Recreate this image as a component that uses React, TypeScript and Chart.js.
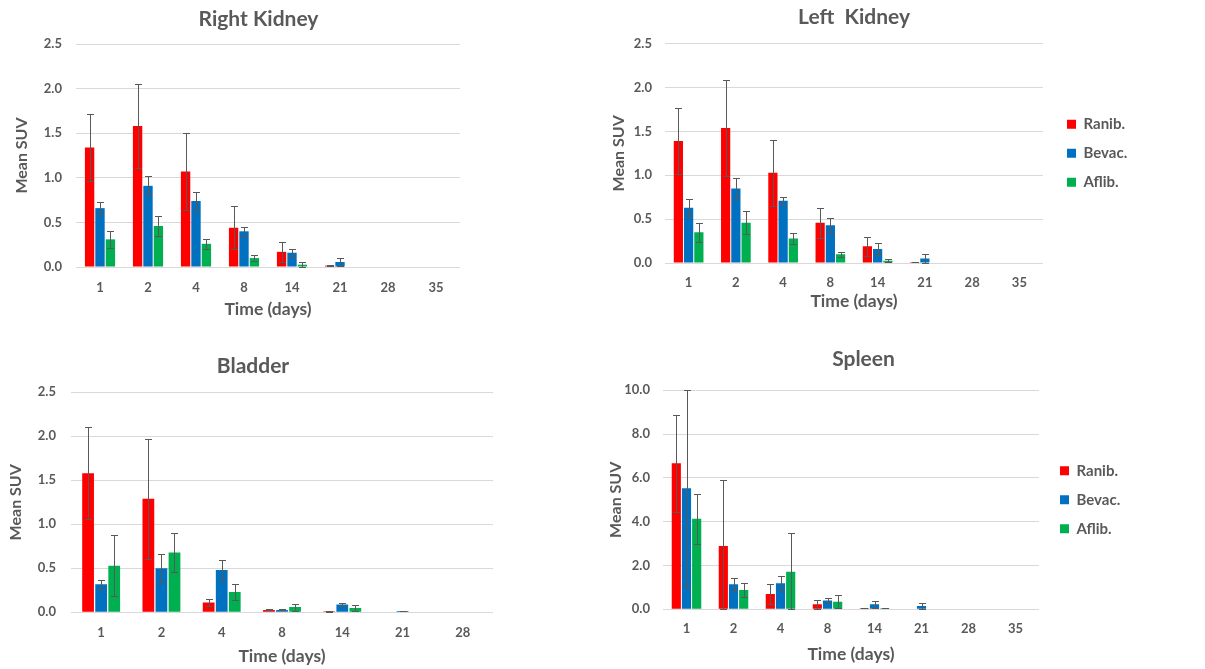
import React, { useEffect, useRef } from 'react';
import { Chart, registerables } from 'chart.js';

Chart.register(...registerables);

// ---------- data ----------
const daysLong = ['1', '2', '4', '8', '14', '21', '28', '35'];
const daysBladder = ['1', '2', '4', '8', '14', '21', '28'];
const seriesNames = ['Ranib.', 'Bevac.', 'Aflib.'];
const seriesColors = ['#FF0000', '#0070C0', '#00B050'];

// Right kidney
const rkRanib = [1.34, 1.58, 1.07, 0.44, 0.17, 0.015, null, null];
const rkRanibErr = [0.38, 0.47, 0.43, 0.24, 0.115, 0.005, 0, 0];
const rkBevac = [0.66, 0.91, 0.74, 0.4, 0.16, 0.056, null, null];
const rkBevacErr = [0.07, 0.105, 0.105, 0.05, 0.04, 0.04, 0, 0];
const rkAflib = [0.31, 0.46, 0.26, 0.1, 0.026, null, null, null];
const rkAflibErr = [0.095, 0.115, 0.055, 0.03, 0.025, 0, 0, 0];

// Left kidney
const lkRanib = [1.39, 1.54, 1.03, 0.46, 0.19, 0.01, null, null];
const lkRanibErr = [0.38, 0.545, 0.375, 0.17, 0.105, 0.004, 0, 0];
const lkBevac = [0.63, 0.85, 0.71, 0.43, 0.16, 0.05, null, null];
const lkBevacErr = [0.105, 0.115, 0.04, 0.085, 0.065, 0.05, 0, 0];
const lkAflib = [0.35, 0.46, 0.28, 0.1, 0.027, null, null, null];
const lkAflibErr = [0.105, 0.135, 0.06, 0.03, 0.02, 0, 0, 0];

// Bladder
const blRanib = [1.58, 1.29, 0.11, 0.027, 0.011, null, null];
const blRanibErr = [0.52, 0.68, 0.04, 0.005, 0.002, 0, 0];
const blBevac = [0.32, 0.5, 0.48, 0.027, 0.09, 0.015, null];
const blBevacErr = [0.05, 0.165, 0.11, 0.005, 0.02, 0.005, 0];
const blAflib = [0.53, 0.68, 0.23, 0.06, 0.049, null, null];
const blAflibErr = [0.345, 0.225, 0.095, 0.04, 0.03, 0, 0];

// Spleen
const spRanib = [6.67, 2.89, 0.7, 0.23, 0.05, null, null, null];
const spRanibErr = [2.22, 3.03, 0.47, 0.21, 0.01, 0, 0, 0];
const spBevac = [5.53, 1.14, 1.19, 0.4, 0.23, 0.15, null, null];
const spBevacErr = [4.5, 0.29, 0.33, 0.12, 0.15, 0.12, 0, 0];
const spAflib = [4.13, 0.88, 1.72, 0.35, 0.05, null, null, null];
const spAflibErr = [1.13, 0.33, 1.75, 0.29, 0.01, 0, 0, 0];

// ---------- style ----------
const FONT = 'Lato';
const TEXT = '#595959';
const GRID = '#D9D9D9';
const ERR = '#595959';

const errorBarPlugin = {
  id: 'errorBars',
  afterDatasetsDraw(chart: any) {
    const { ctx, chartArea } = chart;
    const yScale = chart.scales.y;
    ctx.save();
    ctx.strokeStyle = ERR;
    ctx.lineWidth = 1;
    chart.data.datasets.forEach((ds: any, di: number) => {
      const meta = chart.getDatasetMeta(di);
      const errs = ds.errors as number[] | undefined;
      if (!errs || meta.hidden) return;
      meta.data.forEach((bar: any, i: number) => {
        const v = ds.data[i];
        const e = errs[i];
        if (v == null || !e) return;
        const x = Math.round(bar.x) + 0.5;
        const yTop = Math.round(yScale.getPixelForValue(v + e)) + 0.5;
        const yBot = Math.round(Math.min(yScale.getPixelForValue(v - e), chartArea.bottom)) + 0.5;
        const cap = 3.5;
        ctx.beginPath();
        ctx.moveTo(x, yTop);
        ctx.lineTo(x, yBot);
        ctx.moveTo(x - cap, yTop);
        ctx.lineTo(x + cap, yTop);
        ctx.moveTo(x - cap, yBot);
        ctx.lineTo(x + cap, yBot);
        ctx.stroke();
      });
    });
    ctx.restore();
  },
};

type Panel = {
  title: string;
  labels: string[];
  values: (number | null)[][];
  errors: number[][];
  yMax: number;
  yStep: number;
  box: { left: number; top: number; width: number; height: number };
  padL: number;
  padR: number;
  yW: number;
  gap: number;
  legend: boolean;
  legendMax: number;
  titleFull: boolean;
  titlePad: { top: number; bottom: number };
  yTitlePad: number;
  yTickPad: number;
  xTickPad: number;
  xH: number;
  xTitlePadB: number;
};

const panels: Panel[] = [
  {
    title: 'Right Kidney',
    labels: daysLong,
    values: [rkRanib, rkBevac, rkAflib],
    errors: [rkRanibErr, rkBevacErr, rkAflibErr],
    yMax: 2.5,
    yStep: 0.5,
    box: { left: 0, top: 0, width: 513, height: 330 },
    padL: 4,
    padR: 0,
    yW: 72,
    gap: 53,
    legend: false,
    legendMax: 0,
    titleFull: true,
    titlePad: { top: 6.4, bottom: 12.4 },
    yTitlePad: 8.4,
    yTickPad: 14,
    xTickPad: 13.2,
    xH: 63,
    xTitlePadB: 10,
  },
  {
    title: 'Left  Kidney',
    labels: daysLong,
    values: [lkRanib, lkBevac, lkAflib],
    errors: [lkRanibErr, lkBevacErr, lkAflibErr],
    yMax: 2.5,
    yStep: 0.5,
    box: { left: 600, top: 0, width: 605, height: 330 },
    padL: 4,
    padR: 72,
    yW: 61,
    gap: 10,
    legend: true,
    legendMax: 80,
    titleFull: false,
    titlePad: { top: 4.9, bottom: 13.6 },
    yTitlePad: 5.4,
    yTickPad: 13,
    xTickPad: 12,
    xH: 67,
    xTitlePadB: 18.5,
  },
  {
    title: 'Bladder',
    labels: daysBladder,
    values: [blRanib, blBevac, blAflib],
    errors: [blRanibErr, blBevacErr, blAflibErr],
    yMax: 2.5,
    yStep: 0.5,
    box: { left: 0, top: 335, width: 504, height: 334 },
    padL: 2,
    padR: 0,
    yW: 69,
    gap: 11,
    legend: false,
    legendMax: 0,
    titleFull: true,
    titlePad: { top: 18.4, bottom: 13.7 },
    yTitlePad: 3.9,
    yTickPad: 15,
    xTickPad: 12.6,
    xH: 56.7,
    xTitlePadB: 2.5,
  },
  {
    title: 'Spleen',
    labels: daysLong,
    values: [spRanib, spBevac, spAflib],
    errors: [spRanibErr, spBevacErr, spAflibErr],
    yMax: 10,
    yStep: 2,
    box: { left: 600, top: 335, width: 605, height: 334 },
    padL: 3,
    padR: 81,
    yW: 60,
    gap: 7,
    legend: true,
    legendMax: 78,
    titleFull: true,
    titlePad: { top: 11.9, bottom: 18.2 },
    yTitlePad: 3.4,
    yTickPad: 13,
    xTickPad: 12.2,
    xH: 59.7,
    xTitlePadB: 4.5,
  },
];

function PanelChart({ p }: { p: Panel }) {
  const ref = useRef<HTMLCanvasElement | null>(null);
  useEffect(() => {
    if (!ref.current) return;
    const chart = new Chart(ref.current, {
      type: 'bar',
      data: {
        labels: p.labels,
        datasets: p.values.map((vals, i) => ({
          label: seriesNames[i],
          data: vals,
          errors: p.errors[i],
          backgroundColor: seriesColors[i],
          borderWidth: 0,
          categoryPercentage: 0.65,
          barPercentage: 0.9,
          xAxisID: 'x',
          yAxisID: 'y',
        })) as any,
      },
      options: {
        animation: false,
        responsive: false,
        devicePixelRatio: 1,
        events: [],
        layout: { padding: { left: p.padL, right: p.padR, top: 0, bottom: 0 } },
        plugins: {
          title: {
            display: true,
            text: p.title,
            color: TEXT,
            fullSize: p.titleFull,
            font: { family: FONT, size: 21, weight: 'bold' },
            padding: p.titlePad,
          },
          legend: p.legend
            ? {
                display: true,
                position: 'right',
                fullSize: false,
                maxWidth: p.legendMax,
                labels: {
                  boxWidth: 9,
                  boxHeight: 9,
                  padding: 14,
                  color: TEXT,
                  font: { family: FONT, size: 15, weight: 'bold' },
                },
              }
            : { display: false },
          tooltip: { enabled: false },
        },
        scales: {
          x: {
            grid: { display: false, drawTicks: false },
            border: { display: false },
            ticks: {
              padding: p.xTickPad,
              color: TEXT,
              font: { family: FONT, size: 13, weight: 'bold' },
            },
            title: {
              display: true,
              text: 'Time (days)',
              color: TEXT,
              font: { family: FONT, size: 17.5, weight: 'bold' },
              padding: { top: 0, bottom: p.xTitlePadB },
            },
            afterFit: (s: any) => {
              s.height = p.xH;
            },
          },
          y: {
            min: 0,
            max: p.yMax,
            grid: { color: GRID, drawTicks: false },
            border: { display: false },
            ticks: {
              stepSize: p.yStep,
              padding: p.yTickPad,
              color: TEXT,
              font: { family: FONT, size: 13, weight: 'bold' },
              callback: (v: any) => Number(v).toFixed(1),
            },
            title: {
              display: true,
              text: 'Mean SUV',
              color: TEXT,
              font: { family: FONT, size: 16, weight: 'bold' },
              padding: { top: p.yTitlePad, bottom: 0 },
            },
            afterFit: (s: any) => {
              s.width = p.yW;
            },
          },
          gap: {
            type: 'linear',
            axis: 'y',
            position: 'right',
            display: true,
            grid: { display: false, drawTicks: false },
            border: { display: false },
            ticks: { display: false },
            afterFit: (s: any) => {
              s.width = p.gap;
            },
          },
        } as any,
      },
      plugins: [errorBarPlugin],
    } as any);
    return () => chart.destroy();
  }, [p]);
  return (
    <canvas
      ref={ref}
      width={p.box.width}
      height={p.box.height}
      style={{
        position: 'absolute',
        left: p.box.left,
        top: p.box.top,
        width: p.box.width,
        height: p.box.height,
      }}
    />
  );
}

export default function App() {
  return (
    <div
      style={{
        position: 'absolute',
        left: 0,
        top: 0,
        width: 1205,
        height: 669,
        background: '#ffffff',
        overflow: 'hidden',
      }}
    >
      {panels.map((p) => (
        <PanelChart key={p.title} p={p} />
      ))}
    </div>
  );
}
